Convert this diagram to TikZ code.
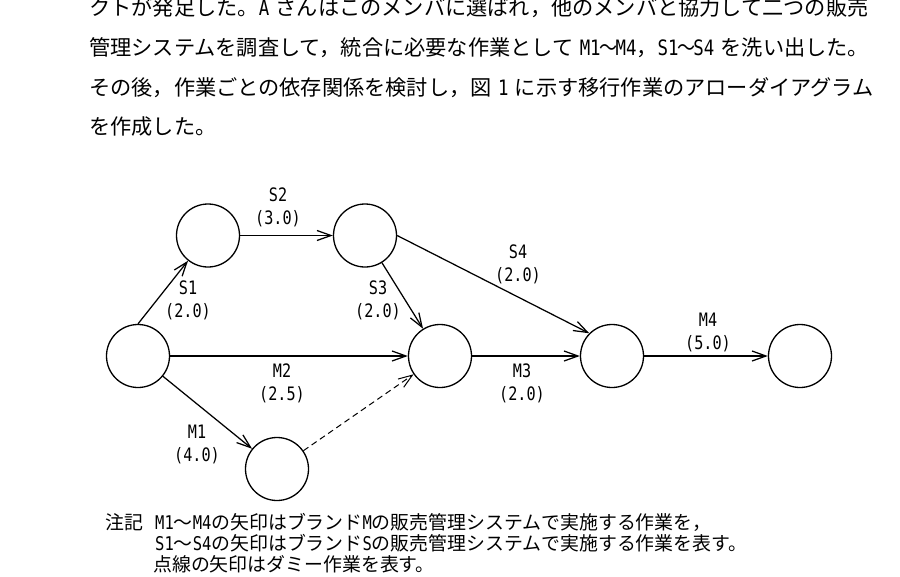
\documentclass[tikz,border=0pt]{standalone}
\usepackage{fontspec}
\newfontfamily\jp{Noto Sans CJK JP}
\newfontfamily\lat[FakeStretch=0.82]{DejaVu Sans Mono}
\usetikzlibrary{arrows.meta}
\newcommand{\hs}{\hspace{0.3em}}
\newcommand{\tl}{\makebox[0.7em][c]{\scalebox{0.85}[1]{～}}}
\begin{document}
\begin{tikzpicture}[x=1pt,y=-1pt,
  ev/.style={circle,draw,line width=1.3pt,minimum size=63pt,inner sep=0pt},
  arr/.style={line width=1.25pt,-{Straight Barb[length=14pt,width=10pt]}},
  dum/.style={arr,dash pattern=on 6pt off 4pt,line width=1pt},
  lbl/.style={font=\lat\fontsize{18.5}{23}\selectfont,align=center,inner sep=0pt},
  body/.style={font=\jp\fontsize{21.2}{25}\selectfont,anchor=base west,inner sep=0pt},
  note/.style={font=\jp\fontsize{18.9}{20}\selectfont,anchor=base west,inner sep=0pt}]
\useasboundingbox (0,0) rectangle (900,576);
\clip (0,0) rectangle (900,576);
\fill[white] (0,0) rectangle (900,576);

% body text
\node[body] (t1) at (89,15) {クトが発足した。{\lat A}\hs さんはこのメンバに選ばれ，他のメンバと協力して二つの販売};
\node[body] (t2) at (89,55) {管理システムを調査して，統合に必要な作業として\hs{\lat M1}\tl{\lat M4}，{\lat S1}\tl{\lat S4}\hs を洗い出した。};
\node[body] (t3) at (89,95) {その後，作業ごとの依存関係を検討し，図\hs{\lat 1}\hs に示す移行作業のアローダイアグラム};
\node[body] (t4) at (89,134) {を作成した。};

% events
\node[ev] (A) at (138,356) {};
\node[ev] (B) at (208,235.5) {};
\node[ev] (C) at (365,235.5) {};
\node[ev] (D) at (440,356) {};
\node[ev] (E) at (277,469) {};
\node[ev] (F) at (612,356) {};
\node[ev] (G) at (800,356) {};

% activities
\draw[arr] (A.north) -- (B);
\draw[arr] (B) -- (C);
\draw[arr] (C) -- (D);
\draw[arr] (C.east) -- (F.north west);
\draw[arr] (A) -- (D);
\draw[arr] (A) -- (E);
\draw[dum] (E) -- (D);
\draw[arr] (D) -- (F);
\draw[arr] (F) -- (G);

% labels
\node[lbl] (lS1) at (188,300) {S1\\(2.0)};
\node[lbl] (lS2) at (278,207) {S2\\(3.0)};
\node[lbl] (lS3) at (378,300) {S3\\(2.0)};
\node[lbl] (lS4) at (518,264) {S4\\(2.0)};
\node[lbl] (lM1) at (197,444) {M1\\(4.0)};
\node[lbl] (lM2) at (282,383) {M2\\(2.5)};
\node[lbl] (lM3) at (522,383) {M3\\(2.0)};
\node[lbl] (lM4) at (708,332) {M4\\(5.0)};

% notes
\node[note] (n0) at (105,529) {注記};
\node[note] (n1) at (155,529) {{\lat M1}～{\lat M4}の矢印はブランド{\lat M}の販売管理システムで実施する作業を，};
\node[note] (n2) at (155,550) {{\lat S1}～{\lat S4}の矢印はブランド{\lat S}の販売管理システムで実施する作業を表す。};
\node[note] (n3) at (153,571) {点線の矢印はダミー作業を表す。};
\end{tikzpicture}
\end{document}
